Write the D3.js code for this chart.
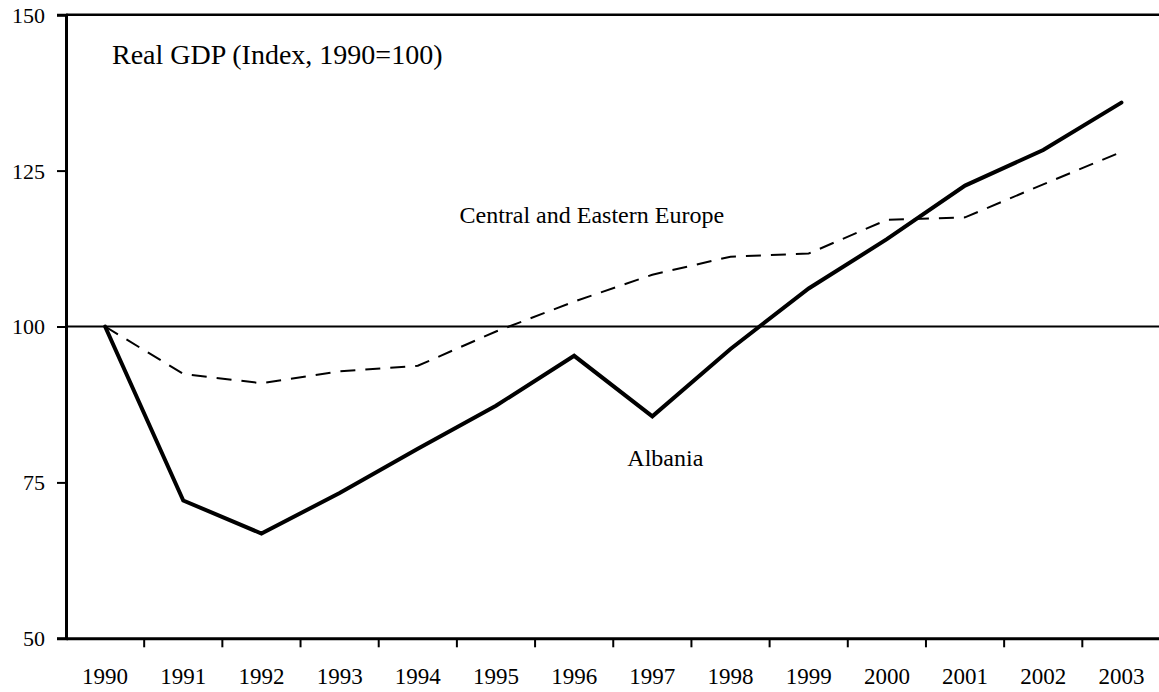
<!DOCTYPE html>
<html>
<head>
<meta charset="utf-8">
<script src="https://cdn.jsdelivr.net/npm/d3@7"></script>
<style>
    body { margin: 0; background: #fff; }
    svg text { font-family: "Liberation Serif", "Times New Roman", serif; fill: #000; }
</style>
</head>
<body>
<svg id="chart"></svg>
<script>
// chart data
var years = ["1990", "1991", "1992", "1993", "1994", "1995", "1996",
             "1997", "1998", "1999", "2000", "2001", "2002", "2003"];
var albania = [100, 72.1, 66.8, 73.3, 80.4, 87.3, 95.3, 85.6, 96.4, 106.1, 114.0, 122.6, 128.3, 135.9];
var cee = [100, 92.4, 90.9, 92.8, 93.7, 99.2, 104.0, 108.3, 111.2, 111.7, 117.1, 117.5, 122.8, 128.0];
var yTicks = [50, 75, 100, 125, 150];

var width = 1159;
var height = 692;

var svg = d3.select("#chart")
    .attr("width", width)
    .attr("height", height);

// plot box (right edge runs just past the window)
// note: can't call these top/left at global scope, window.top is read-only
var plotLeft = 66,
    plotRight = 1160.5,
    plotTop = 14.7,
    plotBottom = 638.3;

var xScale = d3.scaleBand()
    .domain(years)
    .range([plotLeft, plotRight]);

var yScale = d3.scaleLinear()
    .domain([50, 150])
    .range([plotBottom, plotTop]);

function xc(yr) {
    return xScale(yr) + xScale.bandwidth() / 2;
}

// reference line at 100
svg.append("line")
    .attr("x1", plotLeft).attr("x2", width)
    .attr("y1", yScale(100)).attr("y2", yScale(100))
    .attr("stroke", "#000")
    .attr("stroke-width", 1.8);

// top border of the frame
svg.append("line")
    .attr("x1", plotLeft).attr("x2", width)
    .attr("y1", plotTop).attr("y2", plotTop)
    .attr("stroke", "#000")
    .attr("stroke-width", 2.5);

// y axis
var yAxis = d3.axisLeft(yScale)
    .tickValues(yTicks)
    .tickSize(9)
    .tickPadding(12);

var gy = svg.append("g")
    .attr("transform", "translate(" + plotLeft + ",0)")
    .call(yAxis);
gy.select(".domain").attr("stroke-width", 3);
gy.selectAll(".tick line").attr("stroke-width", 2);
gy.selectAll("text")
    .style("font-size", "22px")
    .attr("dy", "0.34em");

// x axis: labels at centers, ticks at band edges
var xAxis = d3.axisBottom(xScale)
    .tickSize(0)
    .tickPadding(29);

var gx = svg.append("g")
    .attr("transform", "translate(0," + plotBottom + ")")
    .call(xAxis);
gx.select(".domain").attr("stroke-width", 3);
gx.selectAll("text")
    .style("font-size", "23px")
    .attr("dy", "0.71em");

gx.selectAll(".edge")
    .data(years.slice(1))
    .enter()
    .append("line")
    .attr("class", "edge")
    .attr("x1", function(d) { return xScale(d); })
    .attr("x2", function(d) { return xScale(d); })
    .attr("y1", 0)
    .attr("y2", 9)
    .attr("stroke", "#000")
    .attr("stroke-width", 2);

// lines
var line = d3.line()
    .x(function(d, i) { return xc(years[i]); })
    .y(function(d) { return yScale(d); });

svg.append("path")
    .datum(cee)
    .attr("d", line)
    .attr("fill", "none")
    .attr("stroke", "#000")
    .attr("stroke-width", 2)
    .attr("stroke-dasharray", "15,10");

svg.append("path")
    .datum(albania)
    .attr("d", line)
    .attr("fill", "none")
    .attr("stroke", "#000")
    .attr("stroke-width", 4)
    .attr("stroke-linejoin", "miter")
    .attr("stroke-linecap", "round");

// labels
svg.append("text")
    .attr("x", 112)
    .attr("y", 63.5)
    .style("font-size", "28px")
    .text("Real GDP (Index, 1990=100)");

svg.append("text")
    .attr("x", xc("1996") + 17.6)
    .attr("y", yScale(116.6))
    .attr("text-anchor", "middle")
    .style("font-size", "24px")
    .text("Central and Eastern Europe");

svg.append("text")
    .attr("x", xc("1997") + 13)
    .attr("y", yScale(77.7))
    .attr("text-anchor", "middle")
    .style("font-size", "24px")
    .text("Albania");
</script>
</body>
</html>
